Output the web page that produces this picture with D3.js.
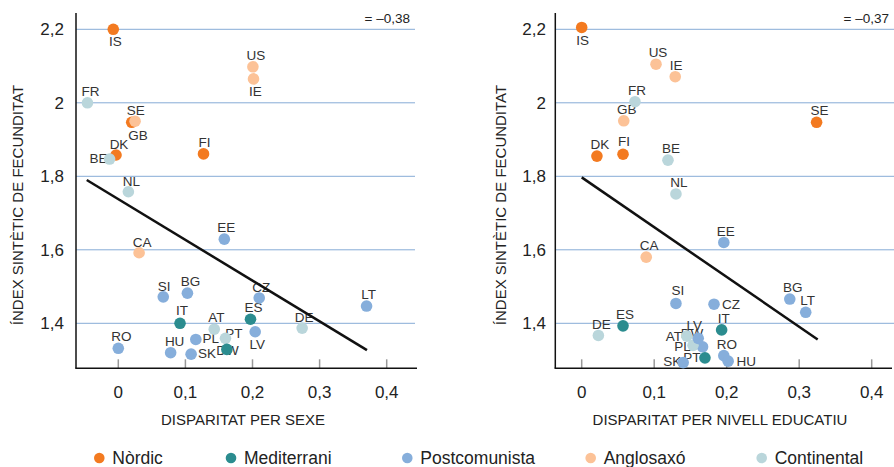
<!DOCTYPE html>
<html>
<head>
<meta charset="utf-8">
<script src="https://cdn.jsdelivr.net/npm/d3@7"></script>
<style>
  body { margin: 0; background: #fff; }
  svg { font-family: "Liberation Sans", Arial, sans-serif; }
</style>
</head>
<body>
<div id="chartHolder"></div>
<script>
// country codes and their group
const countries = ["IS","US","IE","FR","SE","GB","DK","BE","FI","NL","EE","CA","SI","BG","CZ","LT","IT","ES","AT","DE","RO","PL","DW","PT","LV","HU","SK"];
const groups    = ["Nòrdic","Anglosaxó","Anglosaxó","Continental","Nòrdic","Anglosaxó","Nòrdic","Continental","Nòrdic","Continental",
                   "Postcomunista","Anglosaxó","Postcomunista","Postcomunista","Postcomunista","Postcomunista","Mediterrani","Mediterrani",
                   "Continental","Continental","Postcomunista","Postcomunista","Continental","Mediterrani","Postcomunista","Postcomunista","Postcomunista"];

// left panel: disparitat per sexe
const sexeX = [-0.0075,0.2006,0.2015,-0.046,0.020,0.025,-0.0034,-0.013,0.127,0.015,0.158,0.031,0.067,0.103,0.210,0.370,0.092,0.197,0.143,0.274,0.0,0.1155,0.1597,0.1618,0.204,0.078,0.1085];
const sexeY = [2.200,2.098,2.065,2.000,1.947,1.950,1.858,1.847,1.861,1.758,1.629,1.592,1.472,1.482,1.469,1.447,1.400,1.411,1.384,1.387,1.332,1.356,1.359,1.329,1.377,1.320,1.316];

// right panel: disparitat per nivell educatiu
const educX = [0.0,0.1025,0.129,0.0735,0.324,0.058,0.021,0.119,0.057,0.130,0.196,0.089,0.130,0.287,0.1825,0.309,0.193,0.057,0.145,0.023,0.196,0.1667,0.1535,0.170,0.1607,0.202,0.140];
const educY = [2.205,2.105,2.071,2.003,1.947,1.951,1.855,1.844,1.860,1.752,1.620,1.580,1.454,1.466,1.452,1.430,1.382,1.393,1.365,1.367,1.312,1.336,1.340,1.306,1.359,1.297,1.293];

// regression lines [x1, y1, x2, y2]
const sexeFit = [-0.047, 1.790, 0.3706, 1.327];
const educFit = [0.0, 1.797, 0.3255, 1.356];
const corrLabels = ["= \u20130,38", "= \u20130,37"];

const yTicks = [1.4, 1.6, 1.8, 2.0, 2.2];
const xTicks = [0, 0.1, 0.2, 0.3, 0.4];
const groupNames = ["Nòrdic","Mediterrani","Postcomunista","Anglosaxó","Continental"];
const groupColors = ["#f37a20","#2b8c8f","#86aedb","#fcc297","#bad6db"];

// label offsets (dx, dy) from each point, per panel
const sexeOff = {IS:[2,12],US:[3,-12],IE:[2,12],FR:[3,-12],SE:[4,-12],GB:[3,14],DK:[3,-11],BE:[-11,-1],FI:[1,-12],NL:[3,-11],
  EE:[2,-12],CA:[3,-11],SI:[1,-11],BG:[3,-12],CZ:[2,-11],LT:[2,-12],IT:[2,-13],ES:[3,-12],AT:[2,-12],DE:[2,-11],RO:[3,-12],
  PL:[15,-1],DW:[2,12],PT:[7,-16],LV:[2,12],HU:[4,-12],SK:[16,-1]};
const educOff = {IS:[1,13],US:[2,-12],IE:[1,-12],FR:[2,-12],GB:[3,-12],SE:[3,-12],DK:[3,-12],FI:[1,-13],BE:[3,-12],NL:[3,-12],
  EE:[2,-11],CA:[3,-12],SI:[2,-13],CZ:[17,0],BG:[3,-12],LT:[2,-12],ES:[2,-12],IT:[2,-12],DE:[3,-11],AT:[-13,0],LV:[-4,-13],
  DW:[-1,-12],PL:[-20,-1],PT:[-13,-1],RO:[3,-12],HU:[18,0],SK:[-11,-1]};

const w = 894, h = 467;
const color = d3.scaleOrdinal().domain(groupNames).range(groupColors);
const fmt = d => d3.format(".1f")(d).replace(".", ",").replace(/,0$/, "");

const svg = d3.select("#chartHolder").append("svg")
  .attr("width", w).attr("height", h);

const y = d3.scaleLinear().domain([1.4, 2.2]).range([323.3, 29.3]);
const axisTop = 13, axisBottom = 368.3;

const panels = [
  {xs: sexeX, ys: sexeY, fit: sexeFit, off: sexeOff, corr: corrLabels[0], title: "DISPARITAT PER SEXE",
   x: d3.scaleLinear().domain([0, 0.4]).range([118.3, 386.7]), left: 76, right: 417, gridRight: 415, titleX: 18, tickX: 64, corrX: 410, xTitle: 243},
  {xs: educX, ys: educY, fit: educFit, off: educOff, corr: corrLabels[1], title: "DISPARITAT PER NIVELL EDUCATIU",
   x: d3.scaleLinear().domain([0, 0.4]).range([581.7, 871.7]), left: 555.3, right: 892, gridRight: 894, titleX: 501, tickX: 546, corrX: 889, xTitle: 720}
];

panels.forEach(p => {
  const g = svg.append("g");

  // gridlines
  g.selectAll("line.grid").data(yTicks).enter().append("line")
    .attr("x1", p.left).attr("x2", p.gridRight)
    .attr("y1", d => y(d)).attr("y2", d => y(d))
    .attr("stroke", "#86acd6").attr("stroke-width", 1);

  // y tick labels
  g.selectAll("text.ytick").data(yTicks).enter().append("text")
    .attr("x", p.tickX).attr("y", d => y(d)).attr("dy", "0.36em")
    .attr("text-anchor", "end").attr("font-size", 17).attr("fill", "#222")
    .text(fmt);

  // x ticks (inside, gray)
  g.selectAll("line.xtick").data(xTicks).enter().append("line")
    .attr("x1", d => p.x(d)).attr("x2", d => p.x(d))
    .attr("y1", axisBottom - 9).attr("y2", axisBottom)
    .attr("stroke", "#999").attr("stroke-width", 1.5);
  g.selectAll("text.xtick").data(xTicks).enter().append("text")
    .attr("x", d => p.x(d)).attr("y", 392).attr("dy", "0.36em")
    .attr("text-anchor", "middle").attr("font-size", 17).attr("fill", "#222")
    .text(fmt);

  // axis lines
  g.append("line").attr("x1", p.left).attr("x2", p.left).attr("y1", axisTop).attr("y2", axisBottom)
    .attr("stroke", "#111").attr("stroke-width", 1.5);
  g.append("line").attr("x1", p.left - 0.75).attr("x2", p.right).attr("y1", axisBottom).attr("y2", axisBottom)
    .attr("stroke", "#111").attr("stroke-width", 1.5);

  // titles
  g.append("text").attr("x", p.xTitle).attr("y", 420).attr("dy", "0.36em")
    .attr("text-anchor", "middle").attr("font-size", 15).attr("fill", "#222").text(p.title);
  g.append("text").attr("transform", `translate(${p.titleX},205) rotate(-90)`)
    .attr("dy", "0.36em").attr("text-anchor", "middle").attr("font-size", 15).attr("fill", "#222")
    .text("ÍNDEX SINTÈTIC DE FECUNDITAT");
  g.append("text").attr("x", p.corrX).attr("y", 18).attr("dy", "0.36em")
    .attr("text-anchor", "end").attr("font-size", 13.5).attr("fill", "#222").text(p.corr);

  const pts = countries.map((c, i) => ({code: c, group: groups[i], x: p.xs[i], y: p.ys[i]}));

  // labels
  g.selectAll("text.lab").data(pts).enter().append("text")
    .attr("x", d => p.x(d.x) + p.off[d.code][0])
    .attr("y", d => y(d.y) + p.off[d.code][1])
    .attr("dy", "0.36em").attr("text-anchor", "middle")
    .attr("font-size", 13.5).attr("fill", "#333")
    .text(d => d.code);

  // regression line
  g.append("line")
    .attr("x1", p.x(p.fit[0])).attr("y1", y(p.fit[1]))
    .attr("x2", p.x(p.fit[2])).attr("y2", y(p.fit[3]))
    .attr("stroke", "#111").attr("stroke-width", 2.5);

  // points
  g.selectAll("circle").data(pts).enter().append("circle")
    .attr("cx", d => p.x(d.x)).attr("cy", d => y(d.y))
    .attr("r", 5.8).attr("fill", d => color(d.group));
});

// legend
const legendX = [99.3, 231, 407.3, 590.7, 761.7];
const lg = svg.selectAll("g.legend").data(groupNames).enter().append("g")
  .attr("transform", (d, i) => `translate(${legendX[i]},458)`);
lg.append("circle").attr("r", 5.3).attr("fill", d => color(d));
lg.append("text").attr("x", 13).attr("dy", "0.36em")
  .attr("font-size", 17.5).attr("fill", "#222").text(d => d);
</script>
</body>
</html>
